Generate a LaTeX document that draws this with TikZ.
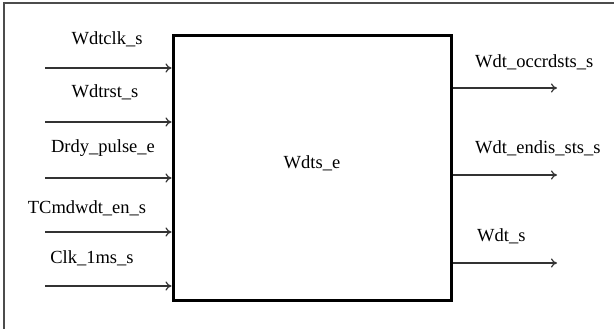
\documentclass[tikz,border=0pt]{standalone}
\usepackage{fontspec}
\setmainfont{Liberation Serif}
\usetikzlibrary{arrows.meta}
\begin{document}
\begin{tikzpicture}[x=1pt,y=-1pt,
  lbl/.style={font=\fontsize{18.5}{20}\selectfont, inner sep=0pt},
  sig/.style={line width=1.4pt, black!80, -{To[length=6pt,width=9pt,line width=1.2pt]}},
  blk/.style={draw, line width=3pt, minimum width=278pt, minimum height=264pt, inner sep=0pt}]
\useasboundingbox (0,0) rectangle (614,329);
\draw[line width=1.6pt, black!70] (4,329) -- (4,3) -- (614,3);
\node[blk] (box) at (312,168) {};
\node[lbl] (c) at (312,163) {Wdts\_e};
% inputs
\coordinate (i1) at (45,68);
\coordinate (i2) at (45,122);
\coordinate (i3) at (45,178);
\coordinate (i4) at (45,232);
\coordinate (i5) at (45,286);
\foreach \k in {1,...,5} {\draw[sig] (i\k) -- (box.west |- i\k);}
\node[lbl] (l1) at (107,39) {Wdtclk\_s};
\node[lbl] (l2) at (105,92) {Wdtrst\_s};
\node[lbl] (l3) at (103,148) {Drdy\_pulse\_e};
\node[lbl] (l4) at (87,208) {TCmdwdt\_en\_s};
\node[lbl] (l5) at (92,258) {Clk\_1ms\_s};
% outputs
\coordinate (o1) at (557,88);
\coordinate (o2) at (557,175);
\coordinate (o3) at (557,263);
\foreach \k in {1,2,3} {\draw[sig] (box.east |- o\k) -- (o\k);}
\node[lbl, anchor=west] (r1) at (475,62) {Wdt\_occrdsts\_s};
\node[lbl, anchor=west] (r2) at (475,148) {Wdt\_endis\_sts\_s};
\node[lbl, anchor=west] (r3) at (477,236) {Wdt\_s};
\end{tikzpicture}
\end{document}
